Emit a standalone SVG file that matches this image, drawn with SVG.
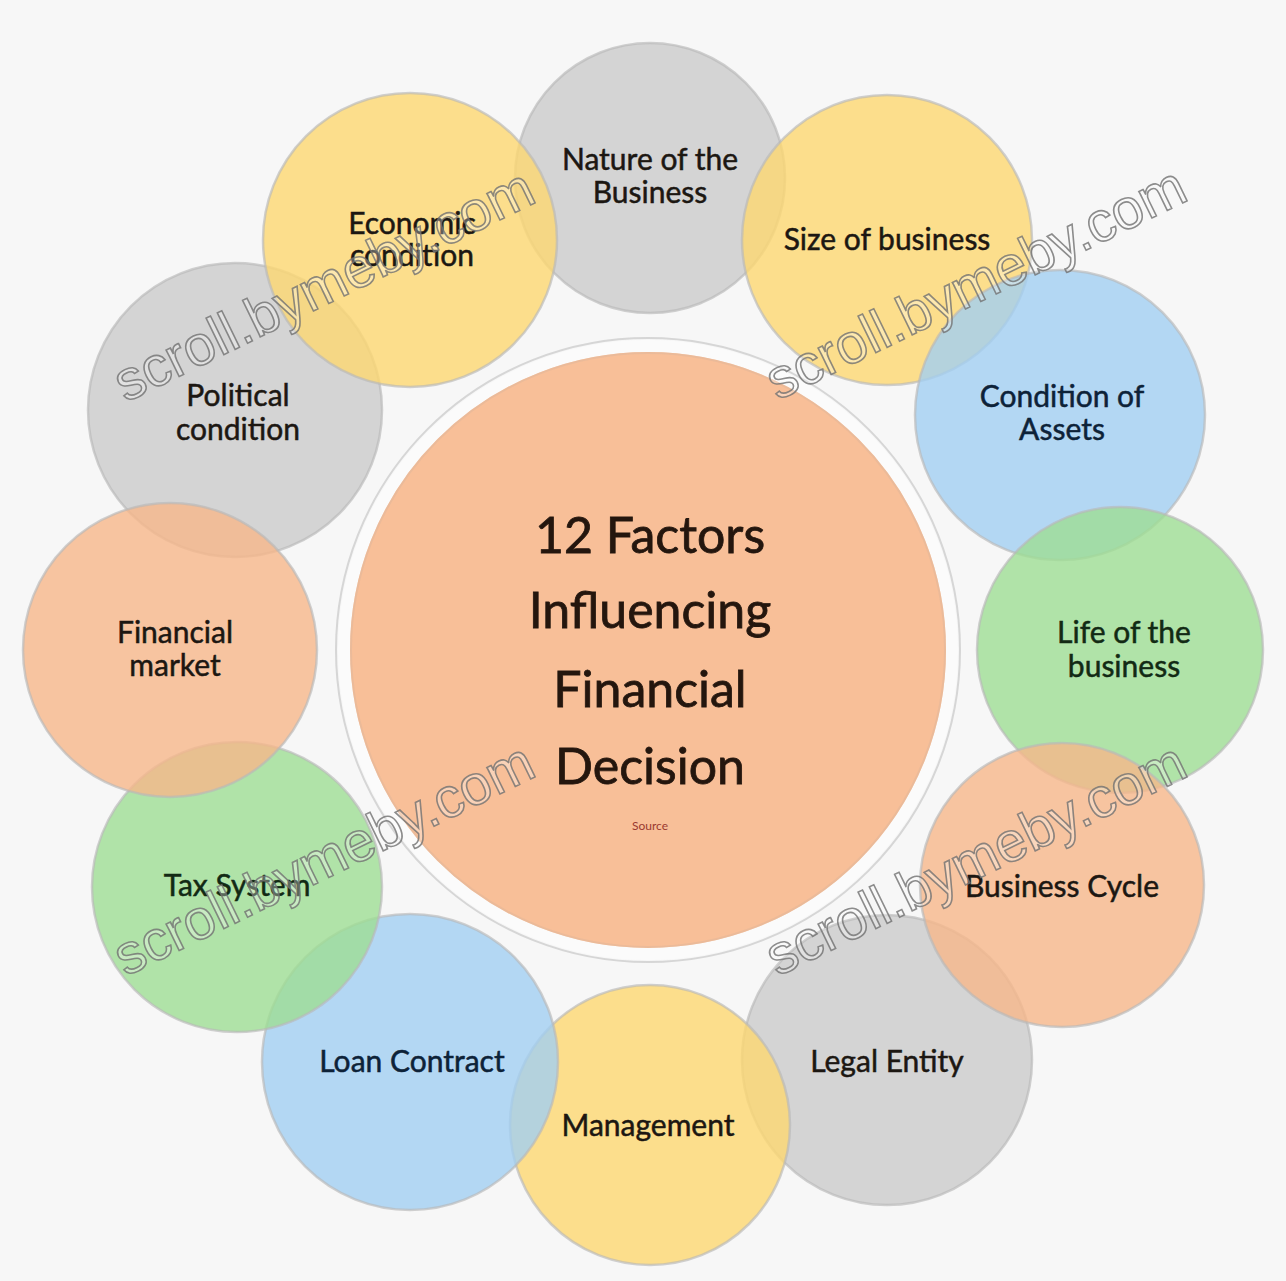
<svg xmlns="http://www.w3.org/2000/svg" width="1286" height="1281" viewBox="0 0 1286 1281">
<style>
.bg{fill:#f7f7f7}
.c{stroke:#b8b8b8;stroke-width:2.5;stroke-opacity:.65;fill-opacity:.8}
.gray{fill:#cbcbcb}
.yel{fill:#fdd771}
.blue{fill:#a1cef1}
.green{fill:#9edd94}
.peach{fill:#f6b78a}
.lbl{font-family:Lato,"Open Sans","Liberation Sans",sans-serif;font-size:30px;text-anchor:middle;fill:#1c1712;stroke:#1c1712;stroke-width:.5}
.title{font-family:Lato,"Open Sans","Liberation Sans",sans-serif;font-size:50px;text-anchor:middle;fill:#24160e;stroke:#24160e;stroke-width:.8}
.wm{font-family:"Liberation Sans",Arial,sans-serif;font-size:56px;text-anchor:middle;fill:#ffffff;fill-opacity:.3;stroke:#707070;stroke-width:1.6;stroke-opacity:.8}
</style>
<rect class="bg" x="0" y="0" width="1286" height="1281"/>
<g id="nodes">
<g id="n-nature"><circle class="c gray" cx="650" cy="178" r="135"/><text class="lbl" x="650" y="170">Nature of the</text><text class="lbl" x="650" y="203">Business</text></g>
<g id="n-legal"><circle class="c gray" cx="887" cy="1060" r="145"/><text class="lbl" x="887" y="1072">Legal Entity</text></g>
<g id="n-size"><circle class="c yel" cx="887" cy="240" r="145"/><text class="lbl" x="887" y="250">Size of business</text></g>
<g id="n-assets"><circle class="c blue" cx="1060" cy="415" r="145"/><text class="lbl" x="1062" y="407" style="fill:#0d2238;stroke:#0d2238">Condition of</text><text class="lbl" x="1062" y="440" style="fill:#0d2238;stroke:#0d2238">Assets</text></g>
<g id="n-life"><circle class="c green" cx="1120" cy="650" r="143"/><text class="lbl" x="1124" y="643" style="fill:#122a14;stroke:#122a14">Life of the</text><text class="lbl" x="1124" y="677" style="fill:#122a14;stroke:#122a14">business</text></g>
<g id="n-cycle"><circle class="c peach" cx="1062" cy="885" r="142"/><text class="lbl" x="1062" y="897">Business Cycle</text></g>
<g id="n-management"><circle class="c yel" cx="650" cy="1125" r="140"/><text class="lbl" x="648" y="1136">Management</text></g>
<g id="n-loan"><circle class="c blue" cx="410" cy="1062" r="148"/><text class="lbl" x="412" y="1072" style="fill:#0d2238;stroke:#0d2238">Loan Contract</text></g>
<g id="n-tax"><circle class="c green" cx="237" cy="887" r="145"/><text class="lbl" x="237" y="896" style="fill:#122a14;stroke:#122a14">Tax System</text></g>
<g id="n-political"><circle class="c gray" cx="235" cy="410" r="147"/><text class="lbl" x="238" y="406">Political</text><text class="lbl" x="238" y="440">condition</text></g>
<g id="n-financial"><circle class="c peach" cx="170" cy="650" r="147"/><text class="lbl" x="175" y="643">Financial</text><text class="lbl" x="175" y="676">market</text></g>
<g id="n-economic"><circle class="c yel" cx="410" cy="240" r="147"/><text class="lbl" x="412" y="234">Economic</text><text class="lbl" x="412" y="266">condition</text></g>
<g id="n-center">
<circle cx="648" cy="650" r="312" fill="none" stroke="#c8c8c8" stroke-width="2" stroke-opacity=".7"/>
<circle cx="648" cy="650" r="304" fill="#f8bf98" stroke="#fbfbfb" stroke-width="12"/>
<circle cx="648" cy="650" r="297" fill="none" stroke="#e2b89a" stroke-width="2" stroke-opacity=".6"/>
<text class="title" x="650" y="553">12 Factors</text>
<text class="title" x="650" y="628">Influencing</text>
<text class="title" x="650" y="707">Financial</text>
<text class="title" x="650" y="784">Decision</text>
<text x="650" y="830" font-family="Lato,'Liberation Sans',sans-serif" font-size="12" text-anchor="middle" fill="#9a3a30">Source</text>
</g>
</g>
<g id="connectors"></g>
<g id="watermarks">
<text class="wm" transform="translate(332,302) rotate(-26)">scroll.bymeby.com</text>
<text class="wm" transform="translate(984,300) rotate(-26)">scroll.bymeby.com</text>
<text class="wm" transform="translate(332,876) rotate(-26)">scroll.bymeby.com</text>
<text class="wm" transform="translate(984,876) rotate(-26)">scroll.bymeby.com</text>
</g>
</svg>
